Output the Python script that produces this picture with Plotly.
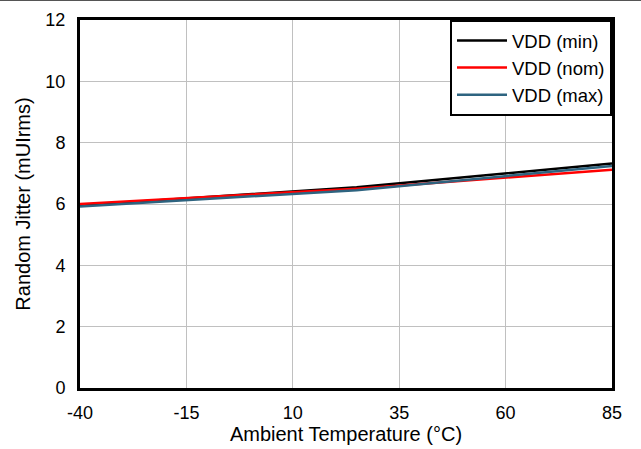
import plotly.graph_objects as go

temps = [-40, 25, 85]
vdd_min = [5.95, 6.55, 7.32]
vdd_nom = [6.0, 6.5, 7.12]
vdd_max = [5.92, 6.45, 7.24]

names = ["VDD (min)", "VDD (nom)", "VDD (max)"]
colors = ["#000000", "#ff0000", "#2e6480"]
series = [vdd_min, vdd_nom, vdd_max]

x_ticks = [-40, -15, 10, 35, 60, 85]
y_ticks = [0, 2, 4, 6, 8, 10, 12]

fig = go.Figure()
for n, c, s in zip(names, colors, series):
    fig.add_trace(go.Scatter(x=temps, y=s, mode="lines", name=n,
                             line=dict(color=c, width=2.5)))

font = dict(family="Liberation Sans, Arial, sans-serif", size=17, color="#000")
tickfont = dict(family="Liberation Sans, Arial, sans-serif", size=18, color="#000")
fig.update_layout(
    width=641, height=449,
    margin=dict(l=80, r=29, t=20, b=61),
    paper_bgcolor="white", plot_bgcolor="white",
    font=font,
    showlegend=True,
    legend=dict(x=1, y=1, xanchor="right", yanchor="top",
                bordercolor="#000", borderwidth=2, bgcolor="white",
                font=dict(size=18.5), tracegroupgap=0, itemwidth=50),
    xaxis=dict(range=[-40, 85], tickvals=x_ticks, ticktext=[str(v) for v in x_ticks],
               tickfont=tickfont, automargin=False,
               showgrid=True, gridcolor="#c0c0c0", gridwidth=1,
               showline=True, linecolor="#000", linewidth=3, mirror=True,
               ticks="", zeroline=False, ticklabelstandoff=6,
               title=dict(text="Ambient Temperature (°C)", standoff=6)),
    yaxis=dict(range=[0, 12], tickvals=y_ticks,
               tickfont=tickfont, automargin=False,
               showgrid=True, gridcolor="#c0c0c0", gridwidth=1,
               showline=True, linecolor="#000", linewidth=3, mirror=True,
               ticks="", zeroline=False, ticklabelstandoff=8,
               title=dict(text="Random Jitter (mUIrms)", standoff=10)),
)
fig.add_shape(type="line", xref="paper", yref="paper",
              x0=-0.2, x1=1.2, y0=1.0545, y1=1.0545,
              line=dict(color="#555", width=2))
fig.write_html("out.html")
